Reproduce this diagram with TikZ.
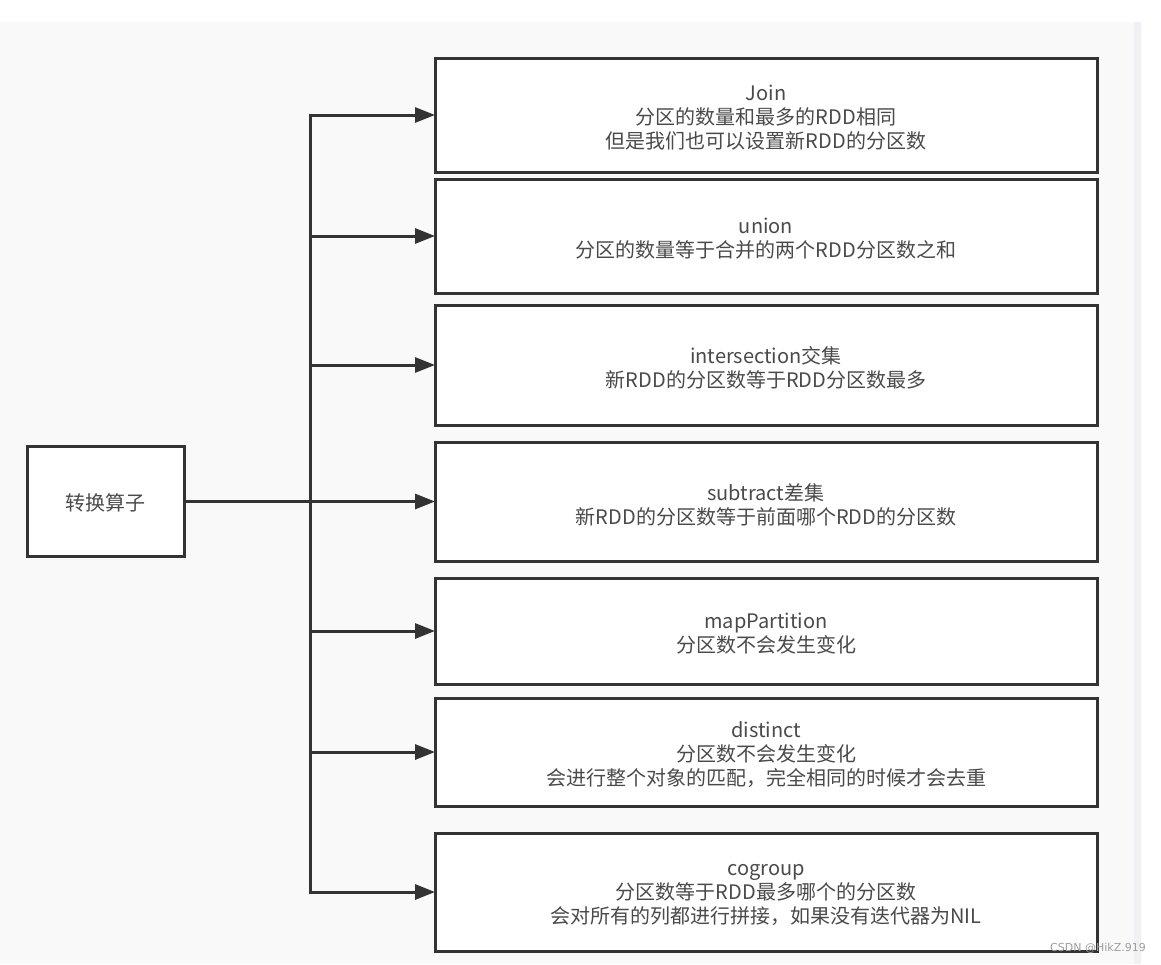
\documentclass[tikz,border=0pt]{standalone}
\usepackage{fontspec}
\usetikzlibrary{arrows.meta}
\newfontfamily\cjk{Noto Sans CJK SC}
\newfontfamily\wmfont{DejaVu Sans}
\definecolor{bgray}{HTML}{F9F9F9}
\definecolor{sidestrip}{HTML}{F0F1F4}
\definecolor{linec}{HTML}{333333}
\definecolor{textc}{HTML}{4A4A4A}
\begin{document}
\begin{tikzpicture}[x=1pt,y=-1pt,
  boxbase/.style={draw=linec, line width=3pt, fill=white, inner sep=0pt, outer sep=0pt},
  opbox/.style={boxbase, minimum width=662pt},
  srcbox/.style={boxbase, minimum width=157pt, minimum height=110pt},
  boxtext/.style={align=center, text=textc, inner sep=0pt, font=\cjk\fontsize{20}{24}\selectfont},
  link/.style={draw=linec, line width=3pt},
  arr/.style={link, -{Triangle[length=20pt,width=15pt]}}
]
\useasboundingbox (0,0) rectangle (1161,964);
% background
\fill[white] (0,0) rectangle (1161,964);
\fill[bgray] (0,22) rectangle (1134,964);
\fill[sidestrip] (1134,22) rectangle (1141,964);

% source node
\node[srcbox] (src) at (105.5,501.5) {};
\node[boxtext] (srct) at ([yshift=-1pt]src.center) {转换算子};

% target nodes
\node[opbox, minimum height=114pt] (join) at (766,115) {};
\node[opbox, minimum height=114pt] (union) at (766,236) {};
\node[opbox, minimum height=120pt] (inter) at (766,365) {};
\node[opbox, minimum height=119pt] (sub) at (766,501.5) {};
\node[opbox, minimum height=106pt] (mapp) at (766,631) {};
\node[opbox, minimum height=108pt] (dist) at (766,752) {};
\node[opbox, minimum height=118pt] (cog) at (766,892) {};

\node[boxtext] (joint) at ([yshift=-3pt]join.center) {Join\\分区的数量和最多的RDD相同\\但是我们也可以设置新RDD的分区数};
\node[boxtext] (uniont) at ([yshift=-3pt]union.center) {union\\分区的数量等于合并的两个RDD分区数之和};
\node[boxtext] (intert) at ([yshift=-3pt]inter.center) {intersection交集\\新RDD的分区数等于RDD分区数最多};
\node[boxtext] (subt) at ([yshift=-3pt]sub.center) {subtract差集\\新RDD的分区数等于前面哪个RDD的分区数};
\node[boxtext] (mappt) at ([yshift=-3pt]mapp.center) {mapPartition\\分区数不会发生变化};
\node[boxtext] (distt) at ([yshift=-3pt]dist.center) {distinct\\分区数不会发生变化\\会进行整个对象的匹配，完全相同的时候才会去重};
\node[boxtext] (cogt) at ([yshift=-3pt]cog.center) {cogroup\\分区数等于RDD最多哪个的分区数\\会对所有的列都进行拼接，如果没有迭代器为NIL};

% spine
\coordinate (spine) at (310,0);
\coordinate (jtop) at (spine |- join.west);
\coordinate (jbot) at (spine |- cog.west);
\coordinate (jmid) at (spine |- src.east);
\draw[link] (src.east) -- (jmid);
\draw[link, line cap=rect] (jtop) -- (jbot);
\foreach \n in {join,union,inter,sub,mapp,dist,cog}{
  \draw[arr] (spine |- \n.west) -- (\n.west);
}

% watermark
\node[anchor=east, inner sep=0pt, text=gray!75, font=\wmfont\fontsize{11}{13}\selectfont] (wm) at (1146,948) {CSDN @HikZ.919};
\end{tikzpicture}
\end{document}
